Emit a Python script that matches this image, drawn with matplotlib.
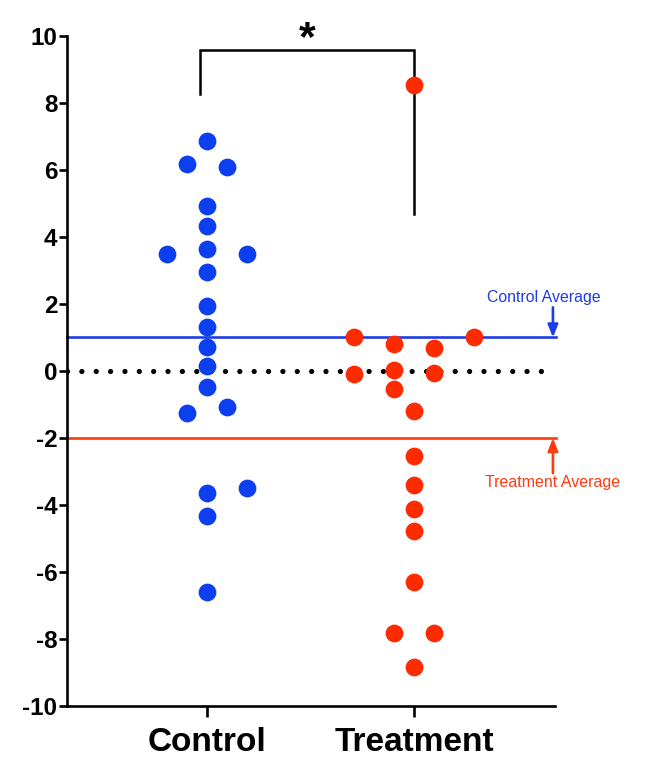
import matplotlib as mpl
import matplotlib.pyplot as plt
import numpy as np

# 字体配置
mpl.rcParams.update({
    "font.family": ["Liberation Sans", "DejaVu Sans"],
    "font.weight": "bold",
    "axes.unicode_minus": False,
})

# data
groups = ["Control", "Treatment"]
control_vals = [6.87, 6.18, 6.09, 4.93, 4.33, 3.49, 3.64, 3.49, 2.96, 1.94,
                1.31, 0.72, 0.15, -0.47, -1.25, -1.07, -3.64, -3.49, -4.33, -6.60]
control_cols = [0, -1, 1, 0, 0, -2, 0, 2, 0, 0,
                0, 0, 0, 0, -1, 1, 0, 2, 0, 0]
treat_vals = [8.54, 1.01, 0.81, 0.69, 1.01, -0.09, 0.03, -0.06, -0.54, -1.19,
              -2.53, -3.40, -4.11, -4.77, -6.31, -7.83, -7.83, -8.84]
treat_cols = [0, -3, -1, 1, 3, -3, -1, 1, -1, 0,
              0, 0, 0, 0, 0, -1, 1, 0]
control_avg = 1.0
treat_avg = -2.0
yticks = list(range(-10, 11, 2))

blue = "#0b3ff0"
red = "#ff2b00"
col_step = 0.096

fig = plt.figure(figsize=(6.48, 7.64), dpi=100)
ax = fig.add_axes([0.1034, 0.0759, 0.7531, 0.877])

xmin, xmax = 0.324, 2.681
ax.set_xlim(xmin, xmax)
ax.set_ylim(-10, 10)

# 平均线 和 零线
ax.plot([xmin, 2.686], [control_avg, control_avg], color="#1f3be6", lw=1.9, clip_on=False, zorder=2)
ax.plot([xmin, 2.686], [treat_avg, treat_avg], color="#ff3a10", lw=1.9, clip_on=False, zorder=2)
ax.plot([xmin, 2.633], [0, 0], color="black", lw=3.8, linestyle=(0, (0.001, 2.72)),
        dash_capstyle="round", zorder=2)

# points
cx = 1 + np.array(control_cols) * col_step
tx = 2 + np.array(treat_cols) * col_step
ax.plot(cx, control_vals, "o", color=blue, ms=12.8, mec="none", zorder=3, clip_on=False)
ax.plot(tx, treat_vals, "o", color=red, ms=12.8, mec="none", zorder=3, clip_on=False)

# significance bracket
ax.plot([0.965, 0.965, 2.0, 2.0], [8.27, 9.58, 9.58, 4.69], color="black", lw=1.8,
        clip_on=False, solid_joinstyle="miter")
ax.text(1.483, 9.9, "*", ha="center", va="center", fontsize=31, fontweight="bold")

# annotations
ax.annotate("", xy=(2.671, control_avg), xytext=(2.671, 1.9),
            arrowprops=dict(arrowstyle="-|>,head_length=0.75,head_width=0.3", color="#1f3be6", lw=1.9,
                            shrinkA=0, shrinkB=0), annotation_clip=False)
ax.annotate("", xy=(2.671, treat_avg), xytext=(2.671, -3.05),
            arrowprops=dict(arrowstyle="-|>,head_length=0.75,head_width=0.3", color="#ff3a10", lw=1.9,
                            shrinkA=0, shrinkB=0), annotation_clip=False)
ax.text(2.626, 2.18, "Control Average", color="#1f3be6", fontsize=11.4, fontweight="normal",
        ha="center", va="center", clip_on=False)
ax.text(2.671, -3.34, "Treatment Average", color="#ff3a10", fontsize=11.5, fontweight="normal",
        ha="center", va="center", clip_on=False)

# axes styling
for s in ["top", "right"]:
    ax.spines[s].set_visible(False)
for s in ["left", "bottom"]:
    ax.spines[s].set_linewidth(1.9)
ax.set_yticks(yticks)
ax.set_yticklabels([str(t) for t in yticks], fontsize=17.5, fontweight="bold")
ax.set_xticks([1, 2])
ax.set_xticklabels(groups, fontsize=24, fontweight="bold")
ax.tick_params(axis="y", length=6, width=1.9, pad=1)
ax.tick_params(axis="x", length=8, width=1.9, pad=7)

fig.savefig("out.png", dpi=100)
